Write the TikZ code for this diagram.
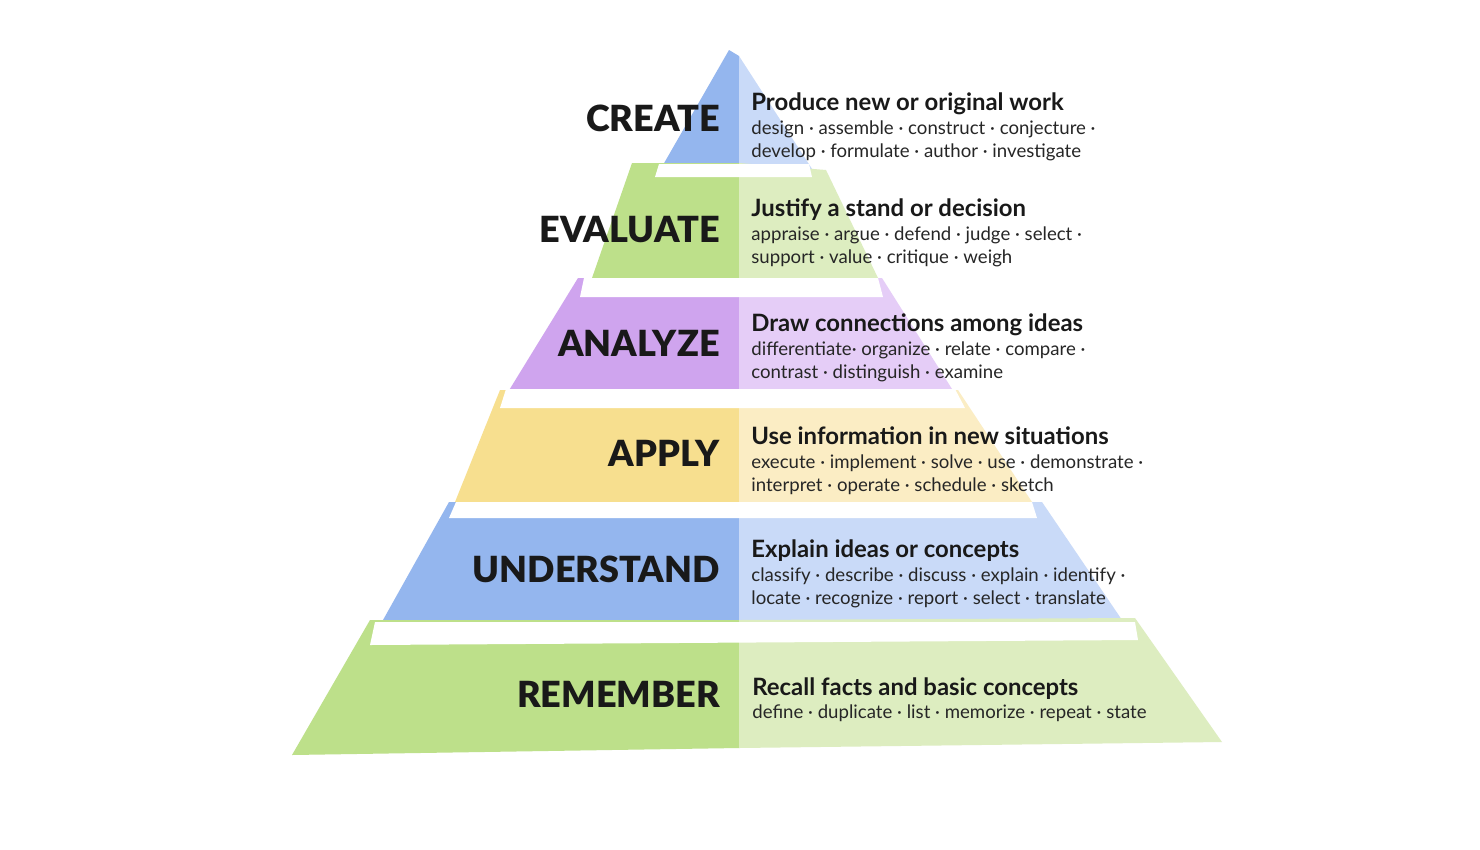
\documentclass[tikz,border=0pt]{standalone}
\usepackage{fontspec}
\setmainfont{Lato}
\newfontfamily\blackfont{Lato Black}
\definecolor{blueD}{HTML}{94B6EE}
\definecolor{blueL}{HTML}{C9DAF8}
\definecolor{greenD}{HTML}{BDE08A}
\definecolor{greenL}{HTML}{DDEDC0}
\definecolor{purpD}{HTML}{CFA4EE}
\definecolor{purpL}{HTML}{E5CDF7}
\definecolor{yellD}{HTML}{F7DF8F}
\definecolor{yellL}{HTML}{FBEDC4}
\tikzset{
  level/.style = {anchor=base east, inner sep=0pt, font={\blackfont\fontsize{20.5}{22}\selectfont}, text=black!90},
  head/.style  = {anchor=base west, inner sep=0pt, font={\bfseries\fontsize{13.6}{15}\selectfont}, text=black!90},
  verbs/.style = {anchor=base west, inner sep=0pt, font={\fontsize{10.6}{12}\selectfont}, text=black!85},
  gap/.style   = {fill=white}
}

\begin{document}
\begin{tikzpicture}[x=0.02cm, y=-0.02cm]
  \useasboundingbox [fill=white] (0,0) rectangle (1480,849);
  % layers, dark half left, light half right
  \fill [blueD]  (729,50) -- (739,56) -- (739,165) -- (663,165) -- cycle;
  \fill [blueL]  (739,56) -- (814,172) -- (739,172) -- cycle;
  \fill [greenD] (632,163) -- (739,163) -- (739,278) -- (592,278) -- cycle;
  \fill [greenL] (739,163) -- (826,170) -- (878,278) -- (739,278) -- cycle;
  \fill [purpD]  (578,278) -- (739,278) -- (739,389) -- (500,405) -- cycle;
  \fill [purpL]  (739,278) -- (882,278) -- (952,389) -- (739,389) -- cycle;
  \fill [yellD]  (500,390) -- (739,390) -- (739,502) -- (455,502) -- cycle;
  \fill [yellL]  (739,390) -- (958,390) -- (1032,502) -- (739,502) -- cycle;
  \fill [blueD]  (449,502) -- (739,502) -- (739,620) -- (383,620) -- cycle;
  \fill [blueL]  (739,502) -- (1042,502) -- (1122,620) -- (739,620) -- cycle;
  \fill [greenD] (370,620) -- (739,620) -- (739,748) -- (292,755) -- cycle;
  \fill [greenL] (739,620) -- (1135,618) -- (1222,742) -- (739,748) -- cycle;
  % white gaps between layers
  \fill [gap] (659,164) -- (809,164) -- (812,177) -- (655,177) -- cycle;
  \fill [gap] (584,278) -- (878,278) -- (883,297) -- (580,297) -- cycle;
  \fill [gap] (506,389) -- (955,389) -- (965,408) -- (500,408) -- cycle;
  \fill [gap] (456,502) -- (1032,502) -- (1037,518) -- (449,518) -- cycle;
  \fill [gap] (375,622) -- (1135,622) -- (1138,640) -- (370,645) -- cycle;
  % level names
  \node [level] (create)     at (720,131) {CREATE};
  \node [level] (evaluate)   at (720,242) {EVALUATE};
  \node [level] (analyze)    at (720,356) {ANALYZE};
  \node [level] (apply)      at (720,466) {APPLY};
  \node [level] (understand) at (720,582) {UNDERSTAND};
  \node [level] (remember)   at (720,707) {REMEMBER};
  % descriptions
  \node [head]  (create-h)  at (751,110) {Produce new or original work};
  \node [verbs] (create-1)  at (751,134) {design · assemble · construct · conjecture ·};
  \node [verbs] (create-2)  at (751,157) {develop · formulate · author · investigate};
  \node [head]  (evaluate-h) at (751,216) {Justify a stand or decision};
  \node [verbs] (evaluate-1) at (751,240) {appraise · argue · defend · judge · select ·};
  \node [verbs] (evaluate-2) at (751,263) {support · value · critique · weigh};
  \node [head]  (analyze-h) at (751,331) {Draw connections among ideas};
  \node [verbs] (analyze-1) at (751,355) {differentiate· organize · relate · compare ·};
  \node [verbs] (analyze-2) at (751,378) {contrast · distinguish · examine};
  \node [head]  (apply-h)   at (751,444) {Use information in new situations};
  \node [verbs] (apply-1)   at (751,468) {execute · implement · solve · use · demonstrate ·};
  \node [verbs] (apply-2)   at (751,491) {interpret · operate · schedule · sketch};
  \node [head]  (understand-h) at (751,557) {Explain ideas or concepts};
  \node [verbs] (understand-1) at (751,581) {classify · describe · discuss · explain · identify ·};
  \node [verbs] (understand-2) at (751,604) {locate · recognize · report · select · translate};
  \node [head]  (remember-h) at (752,695) {Recall facts and basic concepts};
  \node [verbs] (remember-1) at (752,718) {define · duplicate · list · memorize · repeat · state};
\end{tikzpicture}
\end{document}
